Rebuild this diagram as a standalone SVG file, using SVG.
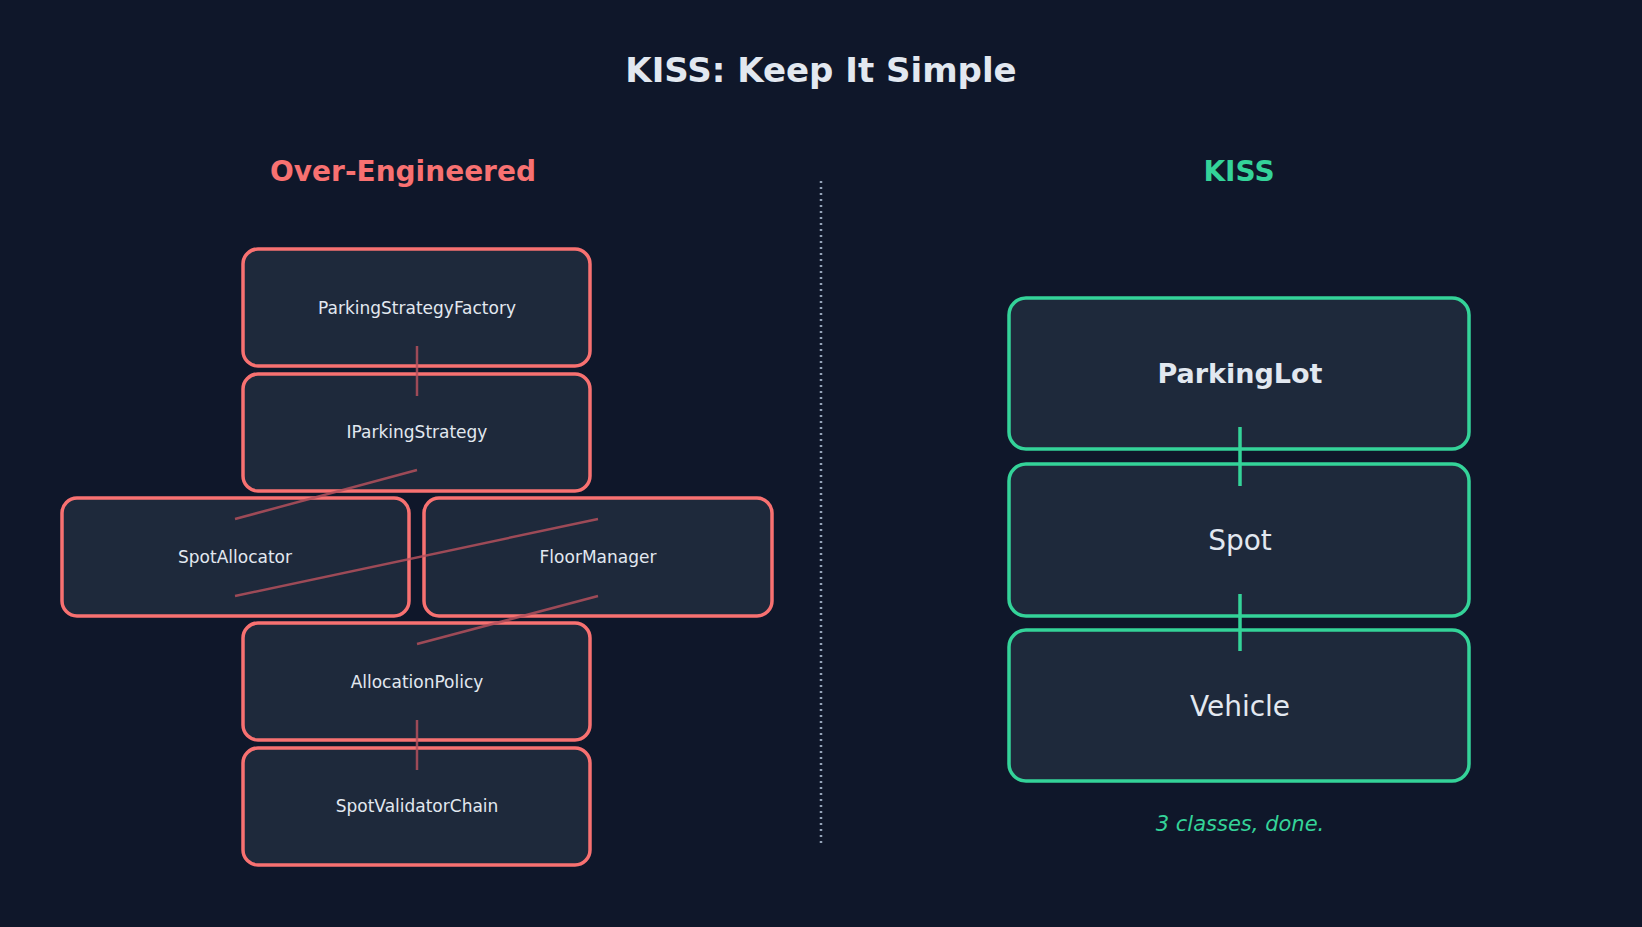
<svg xmlns="http://www.w3.org/2000/svg" width="1642" height="927" viewBox="0 0 1642 927">
<style>
text{font-family:"DejaVu Sans","Noto Sans",sans-serif;fill:#e2e8f0;text-anchor:middle;dominant-baseline:central}
.r{fill:#1e293b;stroke:#f87171;stroke-width:3.5}
.g{fill:#1e293b;stroke:#34d399;stroke-width:3.5}
.s{font-size:17px}
.rl{stroke:#b4505c;stroke-width:2.5;opacity:0.85}
.gl{stroke:#34d399;stroke-width:3.5}
</style>
<rect width="1642" height="927" fill="#0f172a"/>
<text x="821" y="70" font-size="34" font-weight="bold">KISS: Keep It Simple</text>
<text x="403" y="171" font-size="28" font-weight="bold" style="fill:#f87171">Over-Engineered</text>
<text x="1239" y="171" font-size="28" font-weight="bold" style="fill:#34d399">KISS</text>
<line x1="821" y1="181" x2="821" y2="844" stroke="#94a3b8" stroke-width="2.5" stroke-dasharray="2,4"/>
<g id="n1"><rect class="r" x="243" y="249" width="347" height="117" rx="15"/><text class="s" x="417" y="308">ParkingStrategyFactory</text></g>
<g id="n2"><rect class="r" x="243" y="374" width="347" height="117" rx="15"/><text class="s" x="417" y="432">IParkingStrategy</text></g>
<g id="n3"><rect class="r" x="62" y="498" width="347" height="118" rx="15"/><text class="s" x="235" y="557">SpotAllocator</text></g>
<g id="n4"><rect class="r" x="424" y="498" width="348" height="118" rx="15"/><text class="s" x="598" y="557">FloorManager</text></g>
<g id="n5"><rect class="r" x="243" y="623" width="347" height="117" rx="15"/><text class="s" x="417" y="682">AllocationPolicy</text></g>
<g id="n6"><rect class="r" x="243" y="748" width="347" height="117" rx="15"/><text class="s" x="417" y="806">SpotValidatorChain</text></g>
<g id="k1"><rect class="g" x="1009" y="298" width="460" height="151" rx="17"/><text x="1240" y="373" font-size="27" font-weight="bold">ParkingLot</text></g>
<g id="k2"><rect class="g" x="1009" y="464" width="460" height="152" rx="17"/><text x="1240" y="540" font-size="28">Spot</text></g>
<g id="k3"><rect class="g" x="1009" y="630" width="460" height="151" rx="17"/><text x="1240" y="706" font-size="28">Vehicle</text></g>
<g id="connectors">
<line class="rl" x1="417" y1="346" x2="417" y2="396"/>
<line class="rl" x1="417" y1="470" x2="235" y2="519"/>
<line class="rl" x1="598" y1="519" x2="235" y2="596"/>
<line class="rl" x1="598" y1="596" x2="417" y2="644"/>
<line class="rl" x1="417" y1="720" x2="417" y2="770"/>
<line class="gl" x1="1240" y1="427" x2="1240" y2="486"/>
<line class="gl" x1="1240" y1="594" x2="1240" y2="651"/>
</g>
<text x="1240" y="824" font-size="21" font-style="italic" style="fill:#34d399">3 classes, done.</text>
</svg>
